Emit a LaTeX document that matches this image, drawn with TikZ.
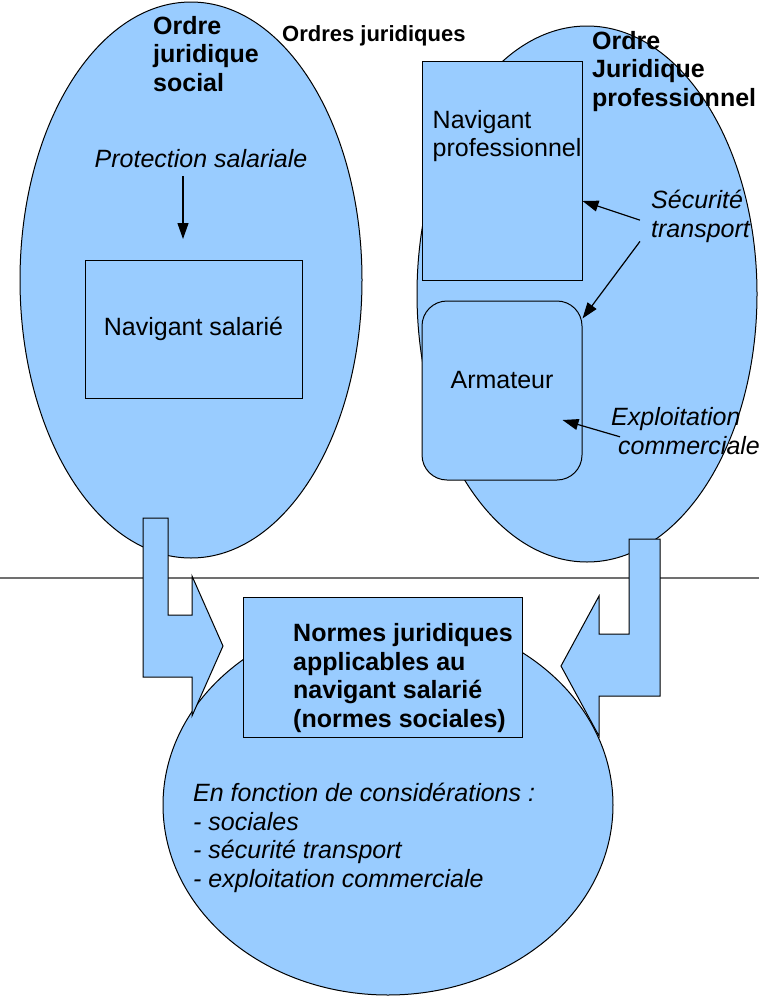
\documentclass[tikz,border=0pt]{standalone}
\usepackage{fontspec}
\setmainfont{Liberation Sans}
\usetikzlibrary{arrows.meta,shapes.geometric,positioning,calc}
\definecolor{sky}{HTML}{99CCFF}
\definecolor{rule}{HTML}{707070}
\tikzset{
    order/.style =  {ellipse,
                    fill=sky,
                    draw=black,
                    line width=1pt,
                    inner sep=0pt},
    box/.style =    {rectangle,
                    fill=sky,
                    draw=black,
                    line width=1pt,
                    inner sep=0pt,
                    font={\fontsize{25}{28.5}\selectfont}},
    roundbox/.style = {box,
                    rounded corners=25pt},
    heading/.style = {font={\fontsize{25}{28.5}\selectfont\bfseries},
                    align=left,
                    inner sep=0pt,
                    anchor=base west},
    words/.style =  {font={\fontsize{25}{28.5}\selectfont},
                    align=left,
                    inner sep=0pt,
                    anchor=base west},
    slanted/.style = {words,
                    font={\fontsize{25}{28.5}\selectfont\itshape}},
    pointer/.style = {-{Triangle[length=16pt,width=11pt]},
                    line width=1.2pt},
    block/.style =  {fill=sky,
                    draw=black,
                    line width=1pt,
                    line join=miter}}

\begin{document}
\begin{tikzpicture}[x=1pt,y=-1pt]
                \useasboundingbox (0,0) rectangle (759,996);
                \node[order, minimum width=342pt, minimum height=556pt]       (social)     at (191,280)  {};
                \node[order, minimum width=340pt, minimum height=536pt]       (pro)        at (587,294)  {};

                \node[box, minimum width=217pt, minimum height=138pt]         (salarie)    at (193.5,329) {Navigant salari\'e};
                \node[box, minimum width=160pt, minimum height=219pt]         (navpro)     at (502,170.5) {};
                \node[roundbox, minimum width=160pt, minimum height=179pt]    (arm)        [below=20pt of navpro] {};

                \node[heading]                     (socialtitle) at (153,91)  {Ordre\\juridique\\social};
                \node[heading, font={\fontsize{22}{26}\selectfont\bfseries}] (ordres) at (282,41) {Ordres juridiques};
                \node[heading]                     (protitle)   at (592,106) {Ordre\\Juridique\\professionnel};

                \node[slanted, anchor=base]        (prot)       at (201,167) {Protection salariale};
                \node[words]                       (navprotxt)  at ([shift={(11,96)}]navpro.north west) {Navigant\\professionnel};
                \node[words, anchor=base]          (armtxt)     at ([shift={(0,-2.5)}]arm.center) {Armateur};
                \node[slanted]                     (secu)       at (651,237) {S\'ecurit\'e\\transport};
                \node[slanted]                     (expl)       at (611,454) {Exploitation\\\hspace{7pt}commerciale};

                \coordinate (protend) at (183,239);
                \path [pointer]     (prot.south -| protend) edge [shorten <=9pt]       (protend)
                                    ([shift={(-11,4)}]secu.west) edge []                ([shift={(0,30.5)}]navpro.east)
                                    ([shift={(-11,-1)}]secu.south west) edge []         ([shift={(0,18)}]arm.north east)
                                    ([shift={(9,6)}]expl.west) edge []                  ([shift={(-20,29.5)}]arm.east);

                \draw [rule, line width=1.2pt] (0,578) -- (759,578);

                \node[order, minimum width=450pt, minimum height=380pt]       (result)     at (388,805)  {};
                \node[box, minimum width=279pt, minimum height=140pt]         (normes)     at (382.5,667) {};
                \node[heading]                     (normestxt)  at (293,727) {Normes juridiques\\applicables au\\navigant salari\'e\\(normes sociales)};
                \node[slanted]                     (criteres)   at (193,887) {En fonction de consid\'erations :\\- sociales\\- s\'ecurit\'e transport\\- exploitation commerciale};

                \draw [block] (143,518) -- (168,518) -- (168,615) -- (192,615) -- (192,576) -- (223,646)
                              -- (192,716) -- (192,677) -- (143,677) -- cycle;
                \draw [block] (629,539) -- (660,539) -- (660,696) -- (599,696) -- (599,736) -- (561,666)
                              -- (599,596) -- (599,634) -- (629,634) -- cycle;
\end{tikzpicture}
\end{document}
